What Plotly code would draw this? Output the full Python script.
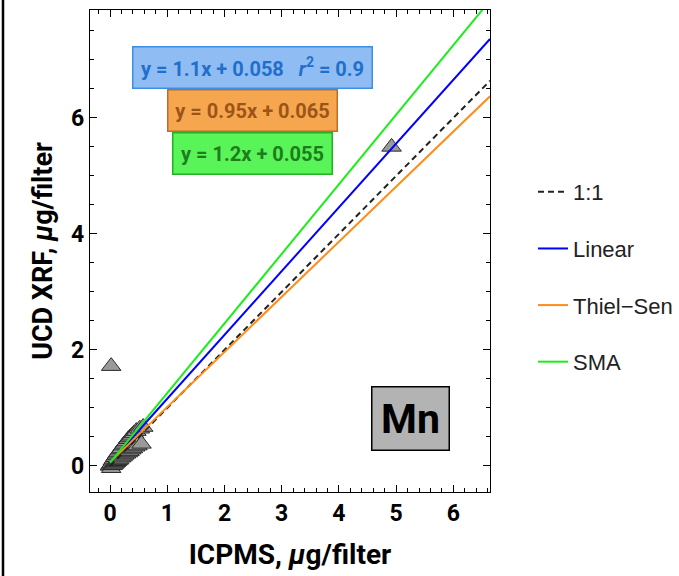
import plotly.graph_objects as go

# ICPMS vs UCD XRF manganese, µg/filter
icpms = [0.00, 0.01, 0.02, 0.03, 0.04, 0.05, 0.06, 0.07, 0.08, 0.09,
         0.10, 0.11, 0.12, 0.13, 0.14, 0.15, 0.16, 0.18, 0.19, 0.20,
         0.22, 0.23, 0.25, 0.26, 0.28, 0.29, 0.31, 0.32, 0.34, 0.35,
         0.37, 0.38, 0.40, 0.42, 0.44, 0.46, 0.48, 0.52, 0.55, 0.58,
         0.02, 4.92]
xrf = [0.00, 0.02, -0.04, 0.05, 0.01, 0.09, 0.02, 0.12, 0.04, 0.15,
       0.06, 0.18, 0.08, 0.21, 0.10, 0.24, 0.11, 0.28, 0.14, 0.30,
       0.16, 0.35, 0.19, 0.38, 0.21, 0.42, 0.23, 0.46, 0.25, 0.49,
       0.28, 0.52, 0.30, 0.56, 0.33, 0.60, 0.35, 0.64, 0.38, 0.67,
       1.72, 5.50]

# fitted lines: (name, slope, intercept)
fit_names = ["Linear", "Thiel\u2212Sen", "SMA"]
fit_slopes = [1.1, 0.95, 1.2]
fit_intercepts = [0.058, 0.065, 0.055]
fit_colors = ["#0000ff", "#ff8c1a", "#1aee1a"]
r_squared = 0.9

x_range = [-0.35, 6.64]
y_range = [-0.45, 7.86]

fig = go.Figure()

fig.add_trace(go.Scatter(
    x=icpms, y=xrf, mode="markers", showlegend=False,
    marker=dict(symbol="triangle-up", size=17, color="#9a9a9a",
                line=dict(color="#2a2a2a", width=1)),
))

line_x = [0, x_range[1]]
fig.add_trace(go.Scatter(
    x=line_x, y=line_x, mode="lines", name="1:1", legendgroup="g0",
    line=dict(color="#222222", width=2, dash="6px,4px"),
))
for i, (name, m, b, c) in enumerate(zip(fit_names, fit_slopes, fit_intercepts, fit_colors)):
    fig.add_trace(go.Scatter(
        x=line_x, y=[m * xv + b for xv in line_x], mode="lines",
        name=name, legendgroup=f"g{i+1}",
        line=dict(color=c, width=2),
    ))

tickfont = dict(family="Roboto", size=23, color="black", weight="bold")
axis_common = dict(
    showline=True, linecolor="black", linewidth=1.3, mirror="ticks",
    ticks="inside", ticklen=7, tickwidth=1.3, tickcolor="black",
    showgrid=False, zeroline=False, tickfont=tickfont,
)
fig.update_xaxes(range=x_range, dtick=1, tick0=0,
                 minor=dict(dtick=0.2, ticks="inside", ticklen=4, tickcolor="black", tickwidth=1),
                 title=dict(text="ICPMS, <i>\u03bc</i>g/filter", standoff=18,
                            font=dict(family="Roboto", size=28, color="black", weight="bold")),
                 **axis_common)
fig.update_yaxes(range=y_range, dtick=2, tick0=0,
                 minor=dict(dtick=0.5, ticks="inside", ticklen=4, tickcolor="black", tickwidth=1),
                 title=dict(text="UCD XRF, <i>\u03bc</i>g/filter", standoff=10,
                            font=dict(family="Roboto", size=27, color="black", weight="bold")),
                 **axis_common)

# equation boxes
eq_texts = [
    f"y = {fit_slopes[0]}x + {fit_intercepts[0]}   <i>r</i><sup>2</sup> = {r_squared}",
    f"y = {fit_slopes[1]}x + {fit_intercepts[1]}",
    f"y = {fit_slopes[2]}x + {fit_intercepts[2]}",
]
eq_style = [
    dict(bg="#8fbcf2", border="#3d8ee6", fg="#1f6fcc", y=0.880, w=236),
    dict(bg="#f7a650", border="#c26a26", fg="#9c5518", y=0.7925, w=166),
    dict(bg="#58f458", border="#26b026", fg="#1d7d1d", y=0.703, w=156),
]
for txt, st in zip(eq_texts, eq_style):
    fig.add_annotation(
        xref="paper", yref="paper", x=0.405, y=st["y"], text=txt, showarrow=False,
        xanchor="center", yanchor="middle",
        font=dict(family="Roboto", size=20, color=st["fg"], weight="bold"),
        bgcolor=st["bg"], bordercolor=st["border"], borderwidth=1.5,
        width=st["w"], height=38, borderpad=1,
    )

# element label
fig.add_annotation(
    xref="paper", yref="paper", x=0.8, y=0.1535, text="Mn", showarrow=False,
    xanchor="center", yanchor="middle",
    font=dict(family="Roboto", size=41, color="black", weight="bold"),
    bgcolor="#b3b3b3", bordercolor="black", borderwidth=1.5,
    width=76, height=62, borderpad=0,
)

# frame line at the left edge of the page
fig.add_shape(type="line", xref="paper", yref="paper",
              x0=-0.2175, x1=-0.2175, y0=-0.2, y1=1.05,
              line=dict(color="black", width=2.5))

fig.update_layout(
    width=679, height=576,
    margin=dict(l=90, r=189, t=10, b=84, autoexpand=False),
    paper_bgcolor="white", plot_bgcolor="white",
    legend=dict(xref="container", yref="container", x=0.785, y=0.703,
                xanchor="left", yanchor="top",
                font=dict(family="Liberation Sans", size=22, color="#222222"),
                tracegroupgap=25, bgcolor="rgba(0,0,0,0)"),
)

fig.write_html("out.html")
